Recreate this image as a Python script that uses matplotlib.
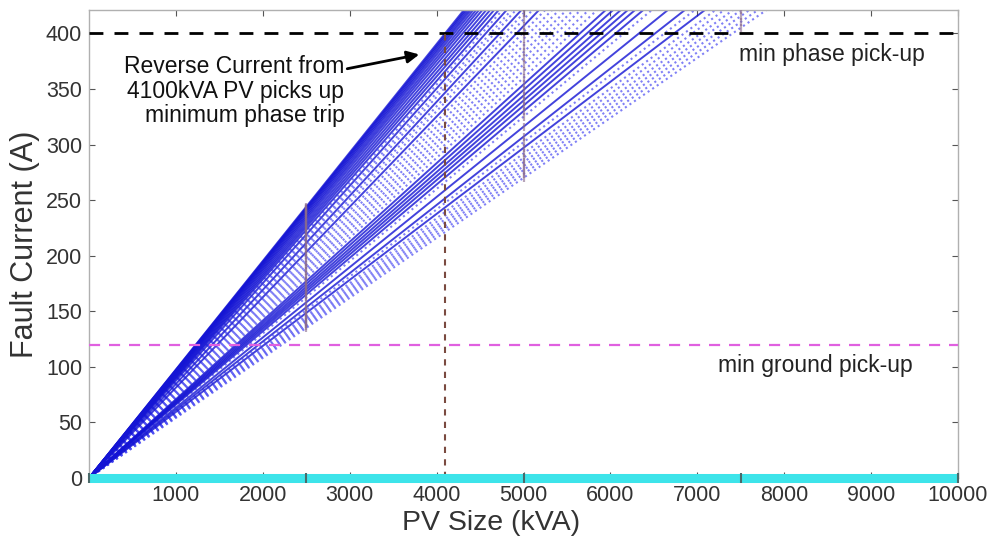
import matplotlib
matplotlib.use("Agg")
import matplotlib.pyplot as plt
import numpy as np

# ----- data -----
pv_size = [0, 2500, 5000, 7500, 10000]          # kVA, simulated points
# fault current per kVA of PV (A/kVA), one value per case
solid_slopes = [0.0976, 0.0972, 0.0968, 0.0963, 0.0958, 0.0952, 0.0945,
                0.0938, 0.0930, 0.0921, 0.0912, 0.0903, 0.0893, 0.0876,
                0.0846, 0.0813, 0.0708, 0.0698, 0.0688, 0.0679, 0.0670,
                0.0660, 0.0632, 0.0614, 0.0594]
dotted_slopes = [0.0885, 0.0866, 0.0857, 0.0836, 0.0825, 0.0802, 0.0790,
                 0.0778, 0.0766, 0.0755, 0.0744, 0.0732, 0.0720, 0.0650,
                 0.0604, 0.0584, 0.0576, 0.0568, 0.0561, 0.0554, 0.0547,
                 0.0540]
ground_current = [0, 0, 0, 0, 0]
phase_pickup = 400
ground_pickup = 120
trip_size = 4100
x_ticks = [1000, 2000, 3000, 4000, 5000, 6000, 7000, 8000, 9000, 10000]
y_ticks = [0, 50, 100, 150, 200, 250, 300, 350, 400]

plt.rcParams['font.family'] = ['Liberation Sans', 'DejaVu Sans']

fig = plt.figure(figsize=(9.93, 5.43), dpi=100)
ax = fig.add_axes([0.0896, 0.1197, 0.8752, 0.8619])

x = np.array(pv_size, dtype=float)

for s in dotted_slopes:
    ax.plot(x, s * x, color="#4a4af2", linestyle=":", linewidth=1.5,
            alpha=0.7)
for s in solid_slopes:
    ax.plot(x, s * x, color="#1414d4", linestyle="-", linewidth=1.4,
            alpha=0.8)

# markers at the simulated PV sizes
for s in dotted_slopes + solid_slopes:
    ax.plot(x[1:], s * x[1:], linestyle="none", marker="|", markersize=6,
            markeredgewidth=1.6, markeredgecolor="#8a6a8c", alpha=0.6,
            zorder=3)

# pick-up thresholds
ax.axhline(phase_pickup, color="black", linestyle=(0, (5, 4)), linewidth=2,
           zorder=4)
ax.axhline(ground_pickup, color="#e060e0", linestyle=(0, (5, 4)),
           linewidth=1.6, zorder=4)
ax.plot([trip_size, trip_size], [0, phase_pickup], color="#7a4a40",
        linestyle=(0, (3, 3)), linewidth=1.5, zorder=4)

# ground fault current (zero)
ax.plot(x, ground_current, color="#3de4ea", linewidth=6.5, zorder=5,
        clip_on=False, marker="|", markersize=7, markeredgewidth=1.5,
        markeredgecolor="#4a6a6a", solid_capstyle="butt")

ax.text(8547, 381, "min phase pick-up", ha="center", va="center",
        fontsize=16.5, color="#222222")
ax.text(8362, 101, "min ground pick-up", ha="center", va="center",
        fontsize=16.5, color="#222222")

ax.annotate("Reverse Current from\n4100kVA PV picks up\nminimum phase trip",
            xy=(3800, 381), xytext=(2940, 348), ha="right", va="center",
            fontsize=16.5, color="#111111", linespacing=1.1,
            arrowprops=dict(arrowstyle="-|>", color="black", lw=2,
                            mutation_scale=18, shrinkA=0, shrinkB=0),
            zorder=6)

ax.set_xlim(0, 10000)
ax.set_ylim(0, 421)
ax.set_xticks(x_ticks)
ax.set_yticks(y_ticks)
ax.tick_params(direction="in", top=True, right=True, length=4,
               labelsize=15.5, colors="#333333", pad=5)
ax.tick_params(axis="both", which="both", color="#555555")
for sp in ax.spines.values():
    sp.set_color("#b0b0b0")
    sp.set_linewidth(1.0)

ax.set_xlabel("PV Size (kVA)", fontsize=20.5, color="#333333", labelpad=1)
ax.xaxis.set_label_coords(0.463, -0.068)
ax.set_ylabel("Fault Current (A)", fontsize=22, color="#333333", labelpad=4)

fig.savefig("out.png", dpi=100)
